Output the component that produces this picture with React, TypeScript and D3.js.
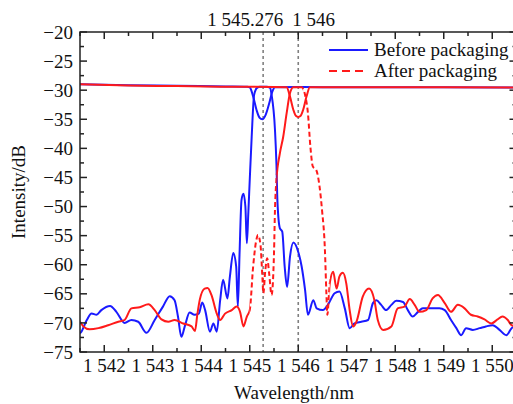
import React from "react";
import * as d3 from "d3";

const W = 513;
const H = 404;
const PLOT = { left: 80, top: 32, right: 516.5, bottom: 352 };

const xDomain: [number, number] = [1541.5, 1550.5];
const yDomain: [number, number] = [-75, -20];
const xTickValues = [1542, 1543, 1544, 1545, 1546, 1547, 1548, 1549, 1550];
const xTickLabels = ["1 542", "1 543", "1 544", "1 545", "1 546", "1 547", "1 548", "1 549", "1 550"];
const yTickValues = [-75, -70, -65, -60, -55, -50, -45, -40, -35, -30, -25, -20];
const yTickLabels = ["−75", "−70", "−65", "−60", "−55", "−50", "−45", "−40", "−35", "−30", "−25", "−20"];
const markerWavelengths = [1545.276, 1546];
const markerLabels = ["1 545.276", "1 546"];
const legendLabels = ["Before packaging", "After packaging"];

// Before packaging: flat trace with notch at 1545.276
const beforeFlat: [number, number][] = [
  [1541.5, -29.0], [1542.5, -29.15], [1543.5, -29.25], [1544.5, -29.35], [1544.95, -29.4],
  [1545.0, -29.5], [1545.07, -31.1], [1545.14, -33.4], [1545.2, -34.7], [1545.26, -35.0],
  [1545.33, -34.2], [1545.4, -32.3], [1545.46, -30.4], [1545.52, -29.5], [1546.0, -29.45],
  [1547.0, -29.5], [1548.0, -29.5], [1549.0, -29.5], [1550.5, -29.55],
];

// Before packaging: band trace
const beforeBand: [number, number][] = [
  [1541.5, -71.8], [1541.53, -71.5], [1541.64, -69.5], [1541.74, -68.4], [1541.84, -68.6],
  [1541.94, -67.8], [1542.12, -67.1], [1542.25, -68.1], [1542.42, -70.0], [1542.56, -69.5],
  [1542.7, -69.8], [1542.87, -71.7], [1543.04, -69.5], [1543.21, -67.2], [1543.35, -65.4],
  [1543.45, -66.1], [1543.52, -68.9], [1543.59, -72.4], [1543.66, -70.6], [1543.76, -68.2],
  [1543.86, -68.6], [1543.95, -68.4], [1544.02, -66.5], [1544.08, -67.8], [1544.18, -71.5],
  [1544.25, -70.1], [1544.32, -71.5], [1544.39, -66.1], [1544.45, -62.6], [1544.54, -65.8],
  [1544.59, -62.1], [1544.66, -58.0], [1544.72, -60.3], [1544.755, -67.2], [1544.79, -58.0],
  [1544.83, -48.9], [1544.87, -47.8], [1544.91, -50.0], [1544.94, -56.3], [1544.97, -51.2],
  [1545.0, -45.4], [1545.04, -38.0], [1545.09, -30.8], [1545.15, -29.6], [1545.21, -29.4],
  [1545.35, -29.4], [1545.42, -29.6], [1545.45, -30.8], [1545.52, -36.8], [1545.55, -42.6],
  [1545.57, -48.9], [1545.62, -53.7], [1545.67, -54.3], [1545.72, -60.3], [1545.77, -63.8],
  [1545.83, -58.6], [1545.9, -56.2], [1546.0, -57.8], [1546.07, -60.3], [1546.14, -64.3],
  [1546.2, -68.6], [1546.31, -66.1], [1546.38, -67.5], [1546.51, -67.8], [1546.61, -66.9],
  [1546.75, -64.9], [1546.85, -64.6], [1546.96, -67.5], [1547.06, -70.9], [1547.16, -70.1],
  [1547.3, -69.8], [1547.44, -69.5], [1547.54, -66.6], [1547.61, -66.1], [1547.71, -66.9],
  [1547.81, -67.8], [1547.92, -66.9], [1548.02, -66.2], [1548.16, -66.4], [1548.26, -67.8],
  [1548.36, -68.9], [1548.47, -68.1], [1548.57, -67.5], [1548.71, -67.5], [1548.91, -67.5],
  [1549.02, -67.8], [1549.15, -69.5], [1549.26, -70.9], [1549.36, -72.1], [1549.46, -70.9],
  [1549.6, -71.2], [1549.74, -70.9], [1549.87, -70.6], [1550.01, -70.4], [1550.15, -71.2],
  [1550.29, -72.1], [1550.4, -70.9], [1550.5, -70.5],
];

// After packaging: flat trace with notch at 1546
const afterFlat: [number, number][] = [
  [1541.5, -29.0], [1542.5, -29.2], [1543.5, -29.3], [1544.5, -29.4], [1545.5, -29.45],
  [1545.76, -29.5], [1545.83, -31.1], [1545.9, -33.4], [1545.95, -34.4], [1546.0, -34.6],
  [1546.05, -34.4], [1546.1, -33.4], [1546.17, -31.1], [1546.24, -29.5], [1547.0, -29.5],
  [1548.0, -29.5], [1549.0, -29.5], [1550.5, -29.55],
];

// After packaging: band trace
const afterBand: [number, number][] = [
  [1541.5, -69.8], [1541.57, -70.6], [1541.7, -71.1], [1541.88, -70.9], [1542.08, -70.4],
  [1542.29, -69.8], [1542.42, -69.5], [1542.56, -67.5], [1542.73, -67.3], [1542.91, -66.8],
  [1543.04, -67.8], [1543.18, -69.4], [1543.32, -69.8], [1543.45, -69.5], [1543.63, -70.1],
  [1543.8, -70.6], [1543.87, -71.4], [1543.92, -68.5], [1543.97, -66.0], [1544.07, -64.1],
  [1544.13, -64.0], [1544.21, -65.2], [1544.32, -68.4], [1544.39, -69.5], [1544.49, -68.4],
  [1544.63, -67.8], [1544.73, -67.2], [1544.8, -68.1], [1544.87, -70.6], [1544.94, -68.9],
  [1545.0, -67.8], [1545.07, -60.3], [1545.13, -56.0], [1545.17, -54.9], [1545.22, -56.5],
  [1545.26, -62.0], [1545.28, -64.9], [1545.32, -61.0], [1545.36, -58.9], [1545.4, -61.5],
  [1545.45, -65.2], [1545.5, -58.0], [1545.52, -50.6], [1545.55, -45.4], [1545.62, -40.9],
  [1545.69, -38.0], [1545.76, -34.0], [1545.83, -30.5], [1545.9, -29.5], [1546.07, -29.5],
  [1546.14, -30.8], [1546.2, -34.0], [1546.25, -39.7], [1546.3, -43.1], [1546.37, -43.7],
  [1546.44, -46.6], [1546.49, -50.6], [1546.55, -57.5], [1546.58, -64.9], [1546.6, -68.6],
  [1546.65, -63.2], [1546.72, -61.2], [1546.79, -64.1], [1546.85, -62.0], [1546.92, -61.4],
  [1546.99, -63.2], [1547.06, -67.8], [1547.13, -70.6], [1547.2, -69.8], [1547.33, -65.5],
  [1547.46, -64.1], [1547.57, -66.1], [1547.64, -69.5], [1547.75, -71.2], [1547.92, -70.6],
  [1548.05, -67.5], [1548.19, -67.2], [1548.3, -65.9], [1548.4, -66.9], [1548.5, -68.1],
  [1548.64, -67.8], [1548.77, -65.8], [1548.88, -65.2], [1549.02, -66.6], [1549.15, -68.1],
  [1549.29, -66.9], [1549.43, -67.5], [1549.56, -68.6], [1549.7, -68.9], [1549.84, -69.4],
  [1549.98, -70.1], [1550.11, -69.4], [1550.21, -68.9], [1550.32, -69.5], [1550.4, -70.4],
  [1550.5, -70.6],
];

// wavelength ranges where the "after" trace shows its dash pattern
const afterDashedRanges: [number, number][] = [[1545.0, 1545.55], [1546.1, 1546.65]];

const BLUE = "#1a1aff";
const RED = "#ff1a1a";
const AXIS = "#222";
const FONT = "'Liberation Serif', 'Times New Roman', serif";
const FS = 19;

export default function App() {
  const x = d3.scaleLinear().domain(xDomain).range([PLOT.left, PLOT.right]);
  const y = d3.scaleLinear().domain(yDomain).range([PLOT.bottom, PLOT.top]);
  const line = d3
    .line<[number, number]>()
    .x((d) => x(d[0]))
    .y((d) => y(d[1]))
    .curve(d3.curveMonotoneX);

  const xMinor = d3.range(xDomain[0], xDomain[1] + 0.001, 0.5).filter((v) => !xTickValues.includes(v));
  const yMinor = d3.range(-72.5, -20, 5);

  const dashRects = afterDashedRanges.map(([a, b]) => ({ x0: x(a), x1: x(b) }));

  const major = 7;
  const minor = 4;
  const ph = PLOT.bottom - PLOT.top;

  return (
    <svg
      width={W}
      height={H}
      style={{ position: "absolute", left: 0, top: 0, background: "#fff" }}
      fontFamily={FONT}
    >
      <defs>
        <clipPath id="plotClip">
          <rect x={PLOT.left} y={PLOT.top} width={PLOT.right - PLOT.left} height={ph} />
        </clipPath>
        <clipPath id="dashClip">
          {dashRects.map((r, i) => (
            <rect key={i} x={r.x0} y={PLOT.top} width={r.x1 - r.x0} height={ph} />
          ))}
        </clipPath>
        <clipPath id="solidClip">
          <rect x={PLOT.left} y={PLOT.top} width={dashRects[0].x0 - PLOT.left} height={ph} />
          <rect x={dashRects[0].x1} y={PLOT.top} width={dashRects[1].x0 - dashRects[0].x1} height={ph} />
          <rect x={dashRects[1].x1} y={PLOT.top} width={PLOT.right - dashRects[1].x1} height={ph} />
        </clipPath>
      </defs>

      {/* marker dashed lines */}
      {markerWavelengths.map((w, i) => (
        <line
          key={i}
          x1={x(w)}
          x2={x(w)}
          y1={PLOT.top}
          y2={PLOT.bottom}
          stroke="#808080"
          strokeWidth={1.6}
          strokeDasharray="3,3"
        />
      ))}

      {/* data */}
      <g clipPath="url(#plotClip)" fill="none" strokeLinejoin="round">
        <path d={line(beforeBand) || ""} stroke={BLUE} strokeWidth={2} />
        <path d={line(beforeFlat) || ""} stroke={BLUE} strokeWidth={2} />
        <path d={line(afterFlat) || ""} stroke={RED} strokeWidth={2} />
        <g clipPath="url(#solidClip)">
          <path d={line(afterBand) || ""} stroke={RED} strokeWidth={2} />
        </g>
        <g clipPath="url(#dashClip)">
          <path d={line(afterBand) || ""} stroke={RED} strokeWidth={2} strokeDasharray="5,3" />
        </g>
      </g>

      {/* frame */}
      <rect
        x={PLOT.left}
        y={PLOT.top}
        width={PLOT.right - PLOT.left}
        height={ph}
        fill="none"
        stroke={AXIS}
        strokeWidth={1.5}
      />

      {/* x ticks (bottom and top, inward) */}
      {xTickValues.map((v) => (
        <g key={"xt" + v} stroke={AXIS} strokeWidth={1.5}>
          <line x1={x(v)} x2={x(v)} y1={PLOT.bottom} y2={PLOT.bottom - major} />
          <line x1={x(v)} x2={x(v)} y1={PLOT.top} y2={PLOT.top + major} />
        </g>
      ))}
      {xMinor.map((v) => (
        <g key={"xm" + v} stroke={AXIS} strokeWidth={1.5}>
          <line x1={x(v)} x2={x(v)} y1={PLOT.bottom} y2={PLOT.bottom - minor} />
          <line x1={x(v)} x2={x(v)} y1={PLOT.top} y2={PLOT.top + minor} />
        </g>
      ))}
      {xTickValues.map((v, i) => (
        <text key={"xl" + v} x={x(v)} y={372} textAnchor="middle" fontSize={FS} fill="#111">
          {xTickLabels[i]}
        </text>
      ))}

      {/* y ticks (left and right, inward) */}
      {yTickValues.map((v) => (
        <g key={"yt" + v} stroke={AXIS} strokeWidth={1.5}>
          <line x1={PLOT.left} x2={PLOT.left + major} y1={y(v)} y2={y(v)} />
          <line x1={PLOT.right} x2={PLOT.right - major} y1={y(v)} y2={y(v)} />
        </g>
      ))}
      {yMinor.map((v) => (
        <g key={"ym" + v} stroke={AXIS} strokeWidth={1.5}>
          <line x1={PLOT.left} x2={PLOT.left + minor} y1={y(v)} y2={y(v)} />
          <line x1={PLOT.right} x2={PLOT.right - minor} y1={y(v)} y2={y(v)} />
        </g>
      ))}
      {yTickLabels.map((t, i) => (
        <text key={"yl" + t} x={73} y={y(yTickValues[i])} dy="0.35em" textAnchor="end" fontSize={FS} fill="#111">
          {t}
        </text>
      ))}

      {/* marker labels */}
      <text x={x(markerWavelengths[0]) + 20} y={26} textAnchor="end" fontSize={FS} fill="#111">
        {markerLabels[0]}
      </text>
      <text x={x(markerWavelengths[1]) - 6} y={26} fontSize={FS} fill="#111">
        {markerLabels[1]}
      </text>

      {/* axis titles */}
      <text x={294} y={399} textAnchor="middle" fontSize={FS} fill="#111">
        Wavelength/nm
      </text>
      <text
        transform={`translate(25, ${(PLOT.top + PLOT.bottom) / 2}) rotate(-90)`}
        textAnchor="middle"
        fontSize={FS}
        fill="#111"
      >
        Intensity/dB
      </text>

      {/* legend */}
      <line x1={329} x2={368} y1={50} y2={50} stroke={BLUE} strokeWidth={2} />
      <text x={374} y={56} fontSize={FS} fill="#111">
        {legendLabels[0]}
      </text>
      <line x1={329} x2={368} y1={71} y2={71} stroke={RED} strokeWidth={2} strokeDasharray="8,5" />
      <text x={374} y={77} fontSize={FS} fill="#111">
        {legendLabels[1]}
      </text>
    </svg>
  );
}
